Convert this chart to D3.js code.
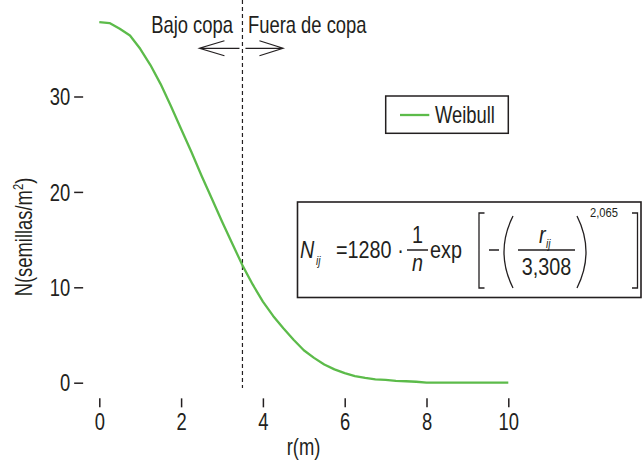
<!DOCTYPE html>
<html>
<head>
<meta charset="utf-8">
<script src="https://cdnjs.cloudflare.com/ajax/libs/d3/7.8.5/d3.min.js"></script>
<style>
  body { margin: 0; background: #fff; }
  svg text { font-family: "Liberation Sans", Arial, sans-serif; fill: #231f20; }
</style>
</head>
<body>
<div id="chart"></div>
<script>
// distance from tree (m) and seed density
var rValues = [0, 0.25, 0.5, 0.75, 1, 1.25, 1.5, 1.75, 2, 2.25, 2.5, 2.75, 3, 3.25, 3.5, 3.75,
  4, 4.25, 4.5, 4.75, 5, 5.25, 5.5, 5.75, 6, 6.25, 6.5, 6.75, 7, 7.25, 7.5, 7.75, 8, 8.5, 9, 9.5, 10];
var weibullN = [37.8, 37.7, 37.1, 36.4, 35.0, 33.3, 31.3, 29.0, 26.6, 24.2, 21.7, 19.3, 16.9, 14.6, 12.3, 10.3,
  8.5, 7.0, 5.7, 4.5, 3.4, 2.6, 1.9, 1.4, 1.0, 0.7, 0.5, 0.35, 0.3, 0.2, 0.15, 0.1, 0, 0, 0, 0, 0];
var xTicks = [0, 2, 4, 6, 8, 10];
var yTicks = [0, 10, 20, 30];
var crownRadius = 3.5;
var seriesName = "Weibull";

var width = 643, height = 466;
var green = "#5cbb4a", ink = "#231f20";
var NARROW = 0.8; // no condensed font installed, squeeze Liberation Sans instead

var data = rValues.map(function (r, i) { return { r: r, n: weibullN[i] }; });

var xScale = d3.scaleLinear().domain([0, 10]).range([99.3, 508.3]);
var yScale = d3.scaleLinear().domain([0, 30]).range([382.7, 96.5]);

var svg = d3.select("#chart").append("svg")
  .attr("width", width)
  .attr("height", height);

// text helper: condensed look by horizontal scaling
function label(parent, x, y, s, size, opts) {
  opts = opts || {};
  return parent.append("text")
    .attr("transform", "translate(" + x + "," + y + ") scale(" + (opts.sx || NARROW) + ",1)")
    .attr("font-size", size)
    .attr("font-style", opts.italic ? "italic" : null)
    .attr("text-anchor", opts.anchor || "start")
    .text(s);
}

// L shaped frame (R style, 4% padding)
var left = xScale(-0.395), right = xScale(10.38), bottom = yScale(-1.64), top = 7;
svg.append("path")
  .attr("d", "M" + left + "," + top + "V" + bottom + "H" + right)
  .attr("fill", "none")
  .attr("stroke", ink)
  .attr("stroke-width", 1.5);

// x axis
var xAxis = d3.axisBottom(xScale).tickValues(xTicks).tickSize(9).tickPadding(6);
var gx = svg.append("g")
  .attr("transform", "translate(0," + bottom + ")")
  .call(xAxis);
gx.select(".domain").remove();
gx.selectAll("line").attr("stroke", ink).attr("stroke-width", 1.5);
gx.selectAll("text")
  .attr("font-size", 23)
  .attr("fill", ink)
  .attr("transform", "scale(" + NARROW + ",1)");

// y axis
var yAxis = d3.axisLeft(yScale).tickValues(yTicks).tickSize(9).tickPadding(4);
var gy = svg.append("g")
  .attr("transform", "translate(" + left + ",0)")
  .call(yAxis);
gy.select(".domain").remove();
gy.selectAll("line").attr("stroke", ink).attr("stroke-width", 1.5);
gy.selectAll("text")
  .attr("font-size", 23)
  .attr("fill", ink)
  .attr("dy", "0.36em")
  .attr("x", -13 / NARROW)
  .attr("transform", "scale(" + NARROW + ",1)");

// axis titles
label(svg, (left + right) / 2, 455, "r(m)", 23, { anchor: "middle" });

var ylab = svg.append("text")
  .attr("transform", "translate(31.5,237) rotate(-90) scale(" + NARROW + ",1)")
  .attr("text-anchor", "middle")
  .attr("font-size", 23);
ylab.append("tspan").text("N(semillas/m");
ylab.append("tspan").attr("font-size", 14).attr("dy", -9).text("2");
ylab.append("tspan").attr("dy", 9).text(")");

// crown edge
var cx = xScale(crownRadius), ay = 48.3;
svg.append("line")
  .attr("x1", cx).attr("x2", cx)
  .attr("y1", top).attr("y2", 388)
  .attr("stroke", ink)
  .attr("stroke-width", 1.2)
  .attr("stroke-dasharray", "4,3");

label(svg, cx - 9.5, 33, "Bajo copa", 23, { anchor: "end" });
label(svg, cx + 5.5, 33, "Fuera de copa", 23);

// arrows
svg.append("path")
  .attr("d", "M" + (cx - 3) + "," + ay + "H" + (cx - 43) +
    "M" + (cx - 18) + "," + (ay - 7.5) + "L" + (cx - 43) + "," + ay + "L" + (cx - 18) + "," + (ay + 7.5) +
    "M" + (cx + 3) + "," + ay + "H" + (cx + 40.6) +
    "M" + (cx + 17) + "," + (ay - 7.5) + "L" + (cx + 40.6) + "," + ay + "L" + (cx + 17) + "," + (ay + 7.5))
  .attr("fill", "none")
  .attr("stroke", ink)
  .attr("stroke-width", 1.2);

// curve
var line = d3.line()
  .x(function (d) { return xScale(d.r); })
  .y(function (d) { return yScale(d.n); });

svg.append("path")
  .datum(data)
  .attr("d", line)
  .attr("fill", "none")
  .attr("stroke", green)
  .attr("stroke-width", 2.3)
  .attr("stroke-linejoin", "round");

// legend
svg.append("rect")
  .attr("x", 385.7).attr("y", 96)
  .attr("width", 122.6).attr("height", 37.3)
  .attr("fill", "#fff")
  .attr("stroke", ink)
  .attr("stroke-width", 1.5);
svg.append("line")
  .attr("x1", 400).attr("x2", 429.3)
  .attr("y1", 115).attr("y2", 115)
  .attr("stroke", green)
  .attr("stroke-width", 2.3);
label(svg, 435, 123.3, seriesName, 23);

// formula box
var f = svg.append("g");
f.append("rect")
  .attr("x", 297.5).attr("y", 202)
  .attr("width", 343.5).attr("height", 95.5)
  .attr("fill", "#fff")
  .attr("stroke", ink)
  .attr("stroke-width", 1.6);

var FS = 0.86;
label(f, 300, 258, "N", 23, { italic: true, sx: FS });
label(f, 316, 265, "ij", 12, { italic: true, sx: FS });
label(f, 336, 258, "=1280", 23, { sx: FS });
label(f, 400.5, 258, "·", 23, { anchor: "middle", sx: FS });
label(f, 417.5, 243, "1", 23, { anchor: "middle", sx: FS });
label(f, 417.5, 271, "n", 23, { italic: true, anchor: "middle", sx: FS });
label(f, 430, 258, "exp", 23, { sx: FS });
label(f, 539, 243, "r", 23, { italic: true, sx: FS });
label(f, 546, 248, "ij", 12, { italic: true, sx: FS });
label(f, 546.5, 275, "3,308", 23, { anchor: "middle", sx: FS });
label(f, 590, 217, "2,065", 13, { sx: FS });

f.append("path")
  .attr("d",
    // fraction bars and minus
    "M407,250H428" + "M518,250H575" + "M489,250H499" +
    // square brackets
    "M484.5,213H479V288H484.5" + "M632,213H637.5V288H632" +
    // parentheses
    "M513,216Q495,252 513,288" + "M577,216Q595,252 577,288")
  .attr("fill", "none")
  .attr("stroke", ink)
  .attr("stroke-width", 1.3);
</script>
</body>
</html>
